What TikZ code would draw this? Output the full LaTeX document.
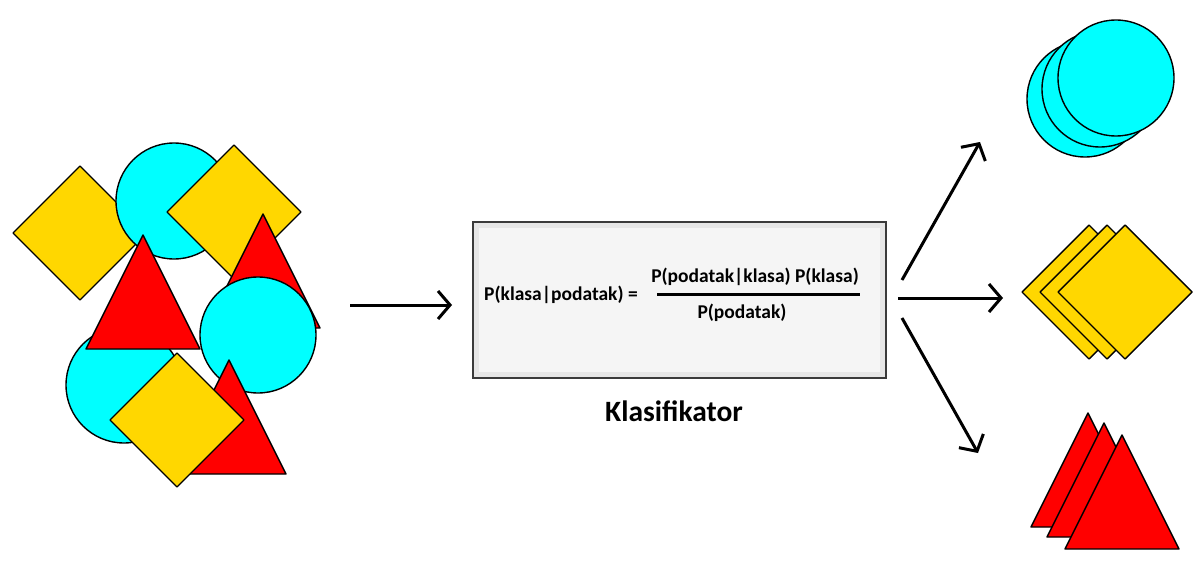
\documentclass[tikz,border=0pt]{standalone}
\usepackage{fontspec}
\setmainfont{Carlito}
\usetikzlibrary{arrows.meta}
\definecolor{cyanc}{HTML}{00FFFF}
\definecolor{yelc}{HTML}{FFD700}
\definecolor{redc}{HTML}{FF0000}
\definecolor{boxedge}{HTML}{3A3A3A}
\definecolor{boxband}{HTML}{E6E6E6}
\definecolor{boxfill}{HTML}{F5F5F5}
\tikzset{
  shp/.style={draw=black, line width=1.4pt, line join=round},
  cshape/.style={shp, fill=cyanc},
  dshape/.style={shp, fill=yelc},
  tshape/.style={shp, fill=redc},
  bigarrow/.style={line width=3pt, -{Straight Barb[length=12pt,width=28pt,line width=3pt]}},
  txt/.style={inner sep=0pt, font=\bfseries\fontsize{19.5}{23}\selectfont},
}
\newcommand\mydia[2]{\draw[dshape, shift={(#1,#2)}] (-67,0) -- (0,-67) -- (67,0) -- (0,67) -- cycle;}
\newcommand\mytri[2]{\draw[tshape, shift={(#1,#2)}] (0,0) -- (57,114) -- (-57,114) -- cycle;}
\newcommand\mycirc[2]{\draw[cshape] (#1,#2) circle[radius=58pt];}
\begin{document}
\begin{tikzpicture}[x=1pt,y=-1pt]
\useasboundingbox (0,0) rectangle (1200,578);
% left cluster
\mydia{80}{233}
\mycirc{174}{201}
\mydia{234}{212}
\mytri{263}{214}
\mycirc{258}{335}
\mycirc{124}{385}
\mytri{143}{235}
\mytri{229}{360}
\mydia{177}{420}
% classifier box
\node[draw=boxedge, line width=1.6pt, fill=boxband, minimum width=413pt, minimum height=156pt, inner sep=0pt] (box) at (679.5,300) {};
\node[fill=boxfill, minimum width=401pt, minimum height=144pt, inner sep=0pt] (boxin) at (box.center) {};
\node[txt, anchor=base west] (lhs) at (484,300) {P(klasa|podatak) =};
\node[txt, anchor=base] (num) at (755,282) {P(podatak|klasa) P(klasa)};
\node[txt, anchor=base] (den) at (742,318) {P(podatak)};
\coordinate (fl) at (657,294);
\coordinate (fr) at (860,294);
\draw[line width=3pt] (fl) -- (fr);
\node[anchor=base, inner sep=0pt, font=\bfseries\fontsize{29.5}{34}\selectfont] (lab) at (674,421) {Klasifikator};
% arrows
\coordinate (inS) at (350,305);
\coordinate (inE) at (452,305);
\draw[bigarrow] (inS) -- (inE);
\coordinate (uS) at (902,280);
\coordinate (uE) at (980,142);
\coordinate (mS) at (898,298);
\coordinate (mE) at (1003,298);
\coordinate (dS) at (902,318);
\coordinate (dE) at (978,453);
\draw[bigarrow] (uS) -- (uE);
\draw[bigarrow] (mS) -- (mE);
\draw[bigarrow] (dS) -- (dE);
% right groups
\mycirc{1085}{99}
\mycirc{1100}{89}
\mycirc{1116}{78}
\mydia{1089}{292}
\mydia{1107}{292}
\mydia{1125}{292}
\mytri{1088}{413}
\mytri{1104}{423}
\mytri{1122}{435}
\end{tikzpicture}
\end{document}
